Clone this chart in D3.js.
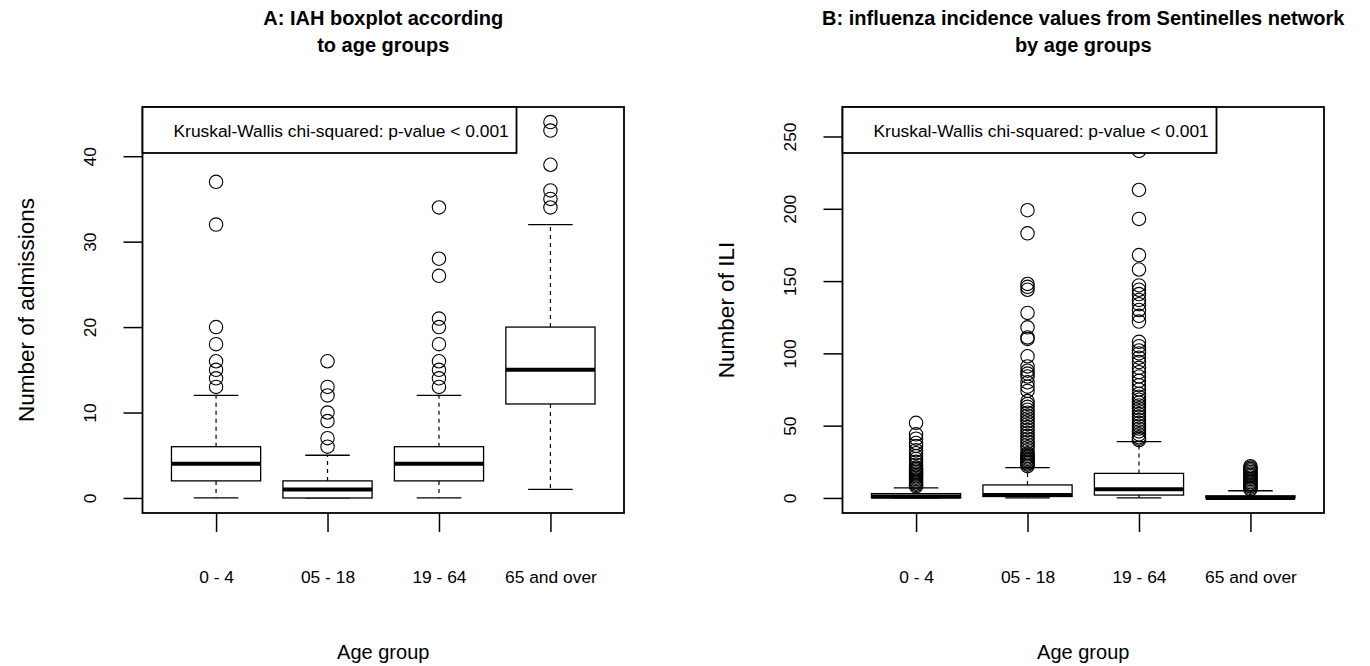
<!DOCTYPE html>
<html>
<head>
<meta charset="utf-8">
<script src="https://cdn.jsdelivr.net/npm/d3@7"></script>
<style>
  body { margin: 0; background: #fff; }
  svg text { font-family: "Liberation Sans", Arial, sans-serif; fill: #000; }
</style>
</head>
<body>
<div id="container"></div>
<script>
// categories
const groups = ["0 - 4", "05 - 18", "19 - 64", "65 and over"];

// panel A : hospital admissions (min whisker, Q1, median, Q3, max whisker)
const iahStats = [[0, 2, 4, 6, 12], [0, 0, 1, 2, 5], [0, 2, 4, 6, 12], [1, 11, 15, 20, 32]];
const iahOutliers = [
    [13, 14, 15, 16, 18, 20, 32, 37],
    [6, 7, 9, 10, 12, 13, 16],
    [13, 14, 15, 16, 18, 20, 21, 26, 28, 34],
    [34, 35, 36, 39, 43, 44]
];
const iahTicks = [0, 10, 20, 30, 40];

// panel B : ILI incidence, Sentinelles network
const iliStats = [[0, 0, 1, 3, 7], [0, 1, 2, 9, 21], [0, 2, 6, 17, 39], [0, 0, 0, 1.5, 5]];
const iliOutliers = [
    [52, 44, 41, 38, 36, 33, 31, 29, 27, 25, 23, 21, 20, 19, 18, 17, 16, 15, 14, 13, 12, 11, 10, 9, 8],
    [199, 183, 148, 146, 144, 128, 118, 111, 110, 98, 91, 88, 86, 84, 80, 77, 74, 67, 65, 63, 61, 59, 57,
     55, 53, 51, 49, 47, 45, 43, 41, 39, 37, 35, 33, 31, 30, 29, 28, 27, 26, 25, 24, 23, 22],
    [260, 240, 213, 193, 168, 158, 147, 144, 141, 137, 134, 130, 126, 122, 108, 105, 102, 100, 97, 94, 90,
     87, 84, 81, 78, 75, 72, 70, 68, 66, 64, 62, 60, 58, 56, 54, 52, 50, 48, 46, 44, 42, 41, 40],
    [22, 21, 20, 19, 18, 17, 16, 15, 14, 13, 12, 11, 10, 9, 8, 7, 6]
];
const iliTicks = [0, 50, 100, 150, 200, 250];

const legendText = "Kruskal-Wallis chi-squared: p-value < 0.001";

const w = 1370, h = 666;
const plotTop = 107, plotBottom = 513;

const svg = d3.select("#container")
    .append("svg")
    .attr("width", w)
    .attr("height", h);

function drawPanel(o) {
    const g = svg.append("g");
    const n = o.stats.length;

    // R style: 4% extension on both axes
    const all = o.stats.flat().concat(o.outliers.flat());
    const lo = d3.min(all), hi = d3.max(all);
    const ext = (hi - lo) * 0.04;
    const yScale = d3.scaleLinear().domain([lo - ext, hi + ext]).range([plotBottom, plotTop]);
    const xScale = d3.scaleLinear().domain([0.5 - 0.16, n + 0.5 + 0.16]).range([o.left, o.right]);
    const half = xScale(1.4) - xScale(1);
    const cap = xScale(1.2) - xScale(1);

    // axes
    const yAxis = d3.axisLeft(yScale).tickValues(o.ticks).tickSize(19);
    g.append("g")
        .attr("transform", "translate(" + o.left + ",0)")
        .call(yAxis)
        .call(a => a.select(".domain").remove())
        .call(a => a.selectAll("line").attr("stroke", "#000").attr("stroke-width", 1.5))
        .call(a => a.selectAll("text")
            .attr("x", 0).attr("y", 0).attr("dy", null)
            .attr("text-anchor", "middle")
            .attr("transform", "translate(-47,0) rotate(-90)")
            .style("font-size", "17.4px"));

    const xAxis = d3.axisBottom(xScale)
        .tickValues(d3.range(1, n + 1))
        .tickFormat(i => groups[i - 1])
        .tickSize(19);
    g.append("g")
        .attr("transform", "translate(0," + plotBottom + ")")
        .call(xAxis)
        .call(a => a.select(".domain").remove())
        .call(a => a.selectAll("line").attr("stroke", "#000").attr("stroke-width", 1.5))
        .call(a => a.selectAll("text").attr("y", 70).attr("dy", null).style("font-size", "17.4px"));

    // boxes
    const boxes = g.selectAll(".box")
        .data(o.stats)
        .enter()
        .append("g")
        .attr("class", "box");

    boxes.append("line")
        .attr("x1", (d, i) => xScale(i + 1)).attr("x2", (d, i) => xScale(i + 1))
        .attr("y1", d => yScale(d[3])).attr("y2", d => yScale(d[4]))
        .attr("stroke", "#000").attr("stroke-width", 1.2).attr("stroke-dasharray", "4,4");
    boxes.append("line")
        .attr("x1", (d, i) => xScale(i + 1)).attr("x2", (d, i) => xScale(i + 1))
        .attr("y1", d => yScale(d[1])).attr("y2", d => yScale(d[0]))
        .attr("stroke", "#000").attr("stroke-width", 1.2).attr("stroke-dasharray", "4,4");
    [0, 4].forEach(k => {
        boxes.append("line")
            .attr("x1", (d, i) => xScale(i + 1) - cap).attr("x2", (d, i) => xScale(i + 1) + cap)
            .attr("y1", d => yScale(d[k])).attr("y2", d => yScale(d[k]))
            .attr("stroke", "#000").attr("stroke-width", 1.3);
    });
    boxes.append("rect")
        .attr("x", (d, i) => xScale(i + 1) - half)
        .attr("width", half * 2)
        .attr("y", d => yScale(d[3]))
        .attr("height", d => yScale(d[1]) - yScale(d[3]))
        .attr("fill", "#fff").attr("stroke", "#000").attr("stroke-width", 1.3);
    boxes.append("line")
        .attr("x1", (d, i) => xScale(i + 1) - half).attr("x2", (d, i) => xScale(i + 1) + half)
        .attr("y1", d => yScale(d[2])).attr("y2", d => yScale(d[2]))
        .attr("stroke", "#000").attr("stroke-width", 4);

    // outliers
    o.outliers.forEach((vals, i) => {
        g.selectAll(".out" + i)
            .data(vals)
            .enter()
            .append("circle")
            .attr("cx", xScale(i + 1))
            .attr("cy", d => yScale(d))
            .attr("r", 6.7)
            .attr("fill", "none")
            .attr("stroke", "#000")
            .attr("stroke-width", 1.1);
    });

    // frame
    g.append("rect")
        .attr("x", o.left).attr("y", plotTop)
        .attr("width", o.right - o.left).attr("height", plotBottom - plotTop)
        .attr("fill", "none").attr("stroke", "#000").attr("stroke-width", 1.8);

    // legend box
    g.append("rect")
        .attr("x", o.left).attr("y", plotTop)
        .attr("width", 374).attr("height", 46)
        .attr("fill", "#fff").attr("stroke", "#000").attr("stroke-width", 1.8);
    g.append("text")
        .attr("x", o.left + 31).attr("y", plotTop + 30)
        .style("font-size", "17.4px")
        .text(legendText);

    // titles
    const cx = (o.left + o.right) / 2;
    g.append("text").attr("x", cx).attr("y", 25).attr("text-anchor", "middle")
        .style("font-size", "20px").style("font-weight", "bold").text(o.title[0]);
    g.append("text").attr("x", cx).attr("y", 52).attr("text-anchor", "middle")
        .style("font-size", "20px").style("font-weight", "bold").text(o.title[1]);
    g.append("text").attr("x", cx).attr("y", 659).attr("text-anchor", "middle")
        .style("font-size", "20px").text("Age group");
    g.append("text")
        .attr("transform", "translate(" + (o.left - 109) + "," + ((plotTop + plotBottom) / 2) + ") rotate(-90)")
        .attr("text-anchor", "middle")
        .style("font-size", "22.5px")
        .text(o.ylab);
}

drawPanel({
    left: 142.5, right: 624,
    stats: iahStats, outliers: iahOutliers, ticks: iahTicks,
    title: ["A: IAH boxplot according", "to age groups"],
    ylab: "Number of admissions"
});

drawPanel({
    left: 842.5, right: 1324,
    stats: iliStats, outliers: iliOutliers, ticks: iliTicks,
    title: ["B: influenza incidence values from Sentinelles network", "by age groups"],
    ylab: "Number of ILI"
});
</script>
</body>
</html>
